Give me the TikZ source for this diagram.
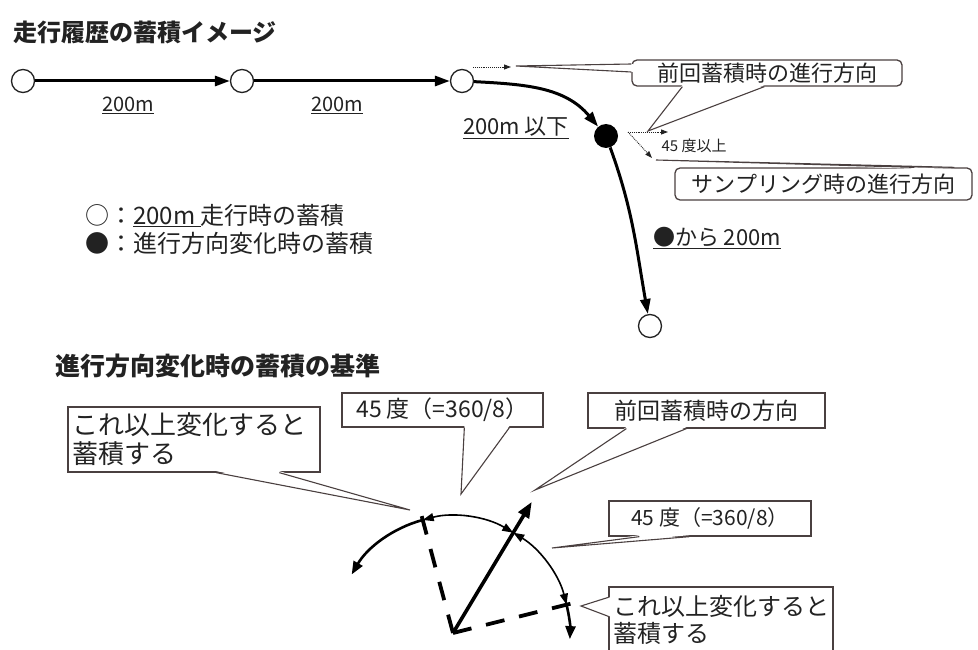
\documentclass[tikz,border=0pt]{standalone}
\usepackage{fontspec}
\setmainfont{Noto Sans CJK JP}
\usetikzlibrary{arrows.meta,calc}
\definecolor{ink}{HTML}{222222}
\definecolor{boxc}{HTML}{4A4040}
\newcommand{\callwedge}[4]{%
  \fill[white] (#1) -- ($(#2)+#4$) -- ($(#3)+#4$) -- cycle;
  \draw[co] (#2) -- (#1) -- (#3);}
\begin{document}
\begin{tikzpicture}[x=1pt,y=-1pt,
  txt/.style={inner sep=0pt, text=ink},
  ttl/.style={txt, anchor=west, font=\fontsize{24}{28}\selectfont\bfseries},
  opennode/.style={circle, draw=ink, line width=1.3pt, fill=white, minimum size=23pt, inner sep=0pt},
  fullnode/.style={circle, fill=black, minimum size=24pt, inner sep=0pt},
  mainarr/.style={draw=black, line width=3pt, -{Triangle[length=15pt,width=10pt]}},
  dotarr/.style={draw=ink, line width=0.9pt, densely dotted, -{Triangle[length=7pt,width=5pt]}},
  co/.style={draw=boxc, line width=1.1pt},
  bx/.style={draw=boxc, line width=1.3pt, fill=white, inner sep=0pt, text=ink},
  rbx/.style={bx, rounded corners=5pt},
  arcthin/.style={draw=black, line width=1.6pt},
  arcthick/.style={draw=black, line width=2.6pt},
  solidarr/.style={draw=black, line width=3.6pt, -{Triangle[length=16pt,width=12pt]}},
  dashline/.style={draw=black, line width=3.8pt, dash pattern=on 19pt off 15pt}
]
\useasboundingbox (0,0) rectangle (978,650);
\fill[white] (0,0) rectangle (978,650);

% ---------- top part ----------
\node[ttl] (h1) at (13,32) {走行履歴の蓄積イメージ};

\node[opennode] (c1) at (23,81) {};
\node[opennode] (c2) at (242,81) {};
\node[opennode] (c3) at (462,81) {};
\node[fullnode] (dot) at (606,136) {};
\node[opennode] (c4) at (650,326) {};

\draw[mainarr] (c1) -- (c2);
\draw[mainarr] (c2) -- (c3);
\draw[mainarr] (c3) to[out=-3,in=130] (dot);
\draw[mainarr] (dot) to[out=-70,in=100] (c4);

\node[txt, font=\fontsize{20}{24}\selectfont] (l1) at (128,105) {\underline{200m}};
\node[txt, font=\fontsize{20}{24}\selectfont] (l2) at (337,105) {\underline{200m}};
\node[txt, font=\fontsize{22}{24}\selectfont] (l3) at (516,128) {\underline{200m 以下}};
\node[txt, font=\fontsize{22}{24}\selectfont] (l4) at (717,238) {\underline{●から 200m}};
\node[txt, font=\fontsize{15}{18}\selectfont] (l5) at (694,146) {45 度以上};

\node[txt, anchor=west, font=\fontsize{24}{28}\selectfont] (lg1) at (85,216) {○：\underline{200m }走行時の蓄積};
\node[txt, anchor=west, font=\fontsize{24}{28}\selectfont] (lg2) at (85,243) {●：進行方向変化時の蓄積};

\coordinate (pa) at (473,67);
\coordinate (pb) at (511,67);
\draw[dotarr] (pa) -- (pb);
\coordinate (q0) at (628,132);
\coordinate (q1) at (668,132);
\coordinate (q2) at (652,158);
\draw[dotarr] (q0) -- (q1);
\draw[dotarr] (q0) -- (q2);

\node[rbx, minimum width=270pt, minimum height=26pt, font=\fontsize{22}{26}\selectfont] (B1) at (767,73) {前回蓄積時の進行方向};
\coordinate (t1) at (516,66);
\coordinate (t2) at (648,131);
\callwedge{t1}{$(B1.west)+(0,-9)$}{$(B1.west)+(0,-1)$}{(1.5,0)}
\callwedge{t2}{$(B1.south west)+(51,0)$}{$(B1.south west)+(133,0)$}{(0,-1.5)}

\node[rbx, minimum width=297pt, minimum height=32pt, font=\fontsize{22}{25}\selectfont] (B2) at (823.5,184) {サンプリング時の進行方向};
\coordinate (t3) at (656,160);
\callwedge{t3}{$(B2.north west)+(240,0)$}{$(B2.north west)+(280,0)$}{(0,1.5)}

% ---------- bottom part ----------
\node[ttl, font=\fontsize{25}{29}\selectfont\bfseries] (h2) at (55,366) {進行方向変化時の蓄積の基準};

\coordinate (O) at (453,633);
\coordinate (S) at ($(O)+(59:153pt)$);
\coordinate (DL) at ($(O)+(105:121pt)$);
\coordinate (DR) at ($(O)+(14:128pt)$);

\draw[dashline] (O) -- (DL);
\draw[dashline] (O) -- (DR);
\draw[arcthick, -{Triangle[length=13pt,width=10pt]}] ($(O)+(105:117pt)$) arc[start angle=105, end angle=150, radius=117pt];
\draw[arcthin, {Triangle[length=11pt,width=8pt]}-{Triangle[length=11pt,width=8pt]}] ($(O)+(105:117pt)$) arc[start angle=105, end angle=59, radius=117pt];
\draw[arcthin, {Triangle[length=11pt,width=8pt]}-{Triangle[length=11pt,width=8pt]}] ($(O)+(59:117pt)$) arc[start angle=59, end angle=14, radius=117pt];
\draw[arcthick, -{Triangle[length=13pt,width=10pt]}] ($(O)+(14:117pt)$) arc[start angle=14, end angle=-3, radius=117pt];
\draw[solidarr] (O) -- (S);

\node[bx, minimum width=252pt, minimum height=65pt, text width=244pt, align=left,
      font=\fontsize{26}{29}\selectfont] (BA) at (194,439.5) {これ以上変化すると\\蓄積する};
\node[bx, minimum width=201pt, minimum height=34pt, font=\fontsize{23}{26}\selectfont] (BB) at (442.5,410) {45 度（=360/8）};
\node[bx, minimum width=237pt, minimum height=35pt, font=\fontsize{23}{26}\selectfont] (BC) at (706.5,410.5) {前回蓄積時の方向};
\node[bx, minimum width=202pt, minimum height=35pt, font=\fontsize{21}{25}\selectfont] (BD) at (710,518.5) {45 度（=360/8）};
\node[bx, minimum width=224pt, minimum height=66pt, text width=216pt, align=left,
      font=\fontsize{24}{27}\selectfont] (BE) at (721,620) {これ以上変化すると\\蓄積する};

\coordinate (ta) at (410,510);
\coordinate (tb) at (461,494);
\coordinate (tc) at (535,490);
\coordinate (td) at (552,548);
\coordinate (te) at (581,606);
\callwedge{ta}{$(BA.south west)+(149,0)$}{$(BA.south west)+(212,0)$}{(0,-1.5)}
\callwedge{tb}{$(BB.south west)+(123,0)$}{$(BB.south west)+(168,0)$}{(0,-1.5)}
\callwedge{tc}{$(BC.south west)+(39,0)$}{$(BC.south west)+(99,0)$}{(0,-1.5)}
\callwedge{td}{$(BD.south west)+(31,0)$}{$(BD.south west)+(81,0)$}{(0,-1.5)}
\callwedge{te}{$(BE.north west)+(0,11)$}{$(BE.north west)+(0,30)$}{(1.5,0)}
\end{tikzpicture}
\end{document}
